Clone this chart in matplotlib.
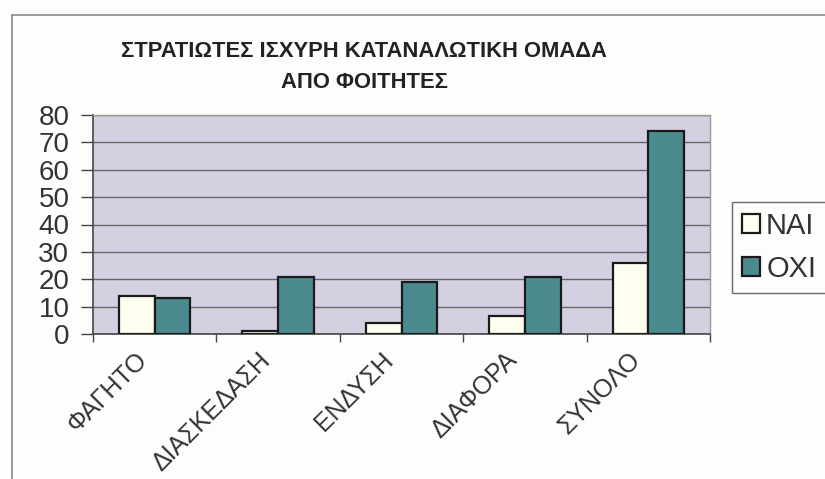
import matplotlib
matplotlib.use("Agg")
import matplotlib.pyplot as plt
import matplotlib.transforms as mtransforms
import numpy as np
from matplotlib.lines import Line2D

categories = ["ΦΑΓΗΤΟ", "ΔΙΑΣΚΕΔΑΣΗ", "ΕΝΔΥΣΗ", "ΔΙΑΦΟΡΑ", "ΣΥΝΟΛΟ"]
nai = [14, 1, 4, 6.5, 26]
oxi = [13, 21, 19, 21, 74]
series_names = ["NAI", "OXI"]
yticks = [0, 10, 20, 30, 40, 50, 60, 70, 80]
title = "ΣΤΡΑΤΙΩΤΕΣ ΙΣΧΥΡΗ ΚΑΤΑΝΑΛΩΤΙΚΗ ΟΜΑΔΑ\nΑΠΟ ΦΟΙΤΗΤΕΣ"

plt.rcParams['font.family'] = ['Liberation Sans', 'DejaVu Sans']

W, H = 825, 479
fig = plt.figure(figsize=(W / 100, H / 100), dpi=100, facecolor="#fdfdfb")

# outer chart border (left and top visible)
fig.add_artist(Line2D([12 / W, 12 / W], [0, 1 - 15 / H], transform=fig.transFigure,
                      color="#8a8a8a", lw=1.2))
fig.add_artist(Line2D([12 / W, 1], [1 - 15 / H, 1 - 15 / H], transform=fig.transFigure,
                      color="#8a8a8a", lw=1.2))

ax = fig.add_axes([93 / W, 1 - 334 / H, (710 - 93) / W, (334 - 115) / H])
ax.set_facecolor("#d5d0e1")

x = np.arange(len(categories))
bw = 0.29
ax.bar(x - bw / 2, nai, width=bw, color="#fffff0", edgecolor="#1a1a1a", linewidth=1.6,
       label=series_names[0], zorder=3)
ax.bar(x + bw / 2, oxi, width=bw, color="#4b8a8e", edgecolor="#1a1a1a", linewidth=1.6,
       label=series_names[1], zorder=3)

ax.set_xlim(-0.5, len(categories) - 0.5)
ax.set_ylim(0, 80)
ax.set_yticks(yticks)
ax.yaxis.grid(True, color="#666666", linewidth=1.0, zorder=1)
ax.set_axisbelow(True)

ax.set_xticks(np.arange(-0.5, len(categories), 1.0))
ax.set_xticklabels([])
ax.set_xticks(x, minor=True)
ax.set_xticklabels(categories, minor=True, rotation=45, ha="right", va="top",
                   rotation_mode="anchor", fontsize=18, color="#333333")
ax.tick_params(axis="x", which="minor", length=0, pad=10)
offset = mtransforms.ScaledTranslation(-20 / 100, 0, fig.dpi_scale_trans)
for lab in ax.get_xticklabels(minor=True):
    lab.set_transform(lab.get_transform() + offset)
ax.tick_params(axis="x", which="major", length=6, width=1.0, color="#444444", direction="out")
ax.tick_params(axis="y", length=9, width=1.0, color="#444444", direction="out",
               labelsize=20, labelcolor="#333333", pad=8)

for side in ["top", "right"]:
    ax.spines[side].set_color("#999999")
    ax.spines[side].set_linewidth(1.0)
for side in ["left", "bottom"]:
    ax.spines[side].set_color("#444444")
    ax.spines[side].set_linewidth(1.2)

fig.text(364 / W, 1 - 67 / H, title, ha="center", va="center", fontsize=15.8,
         fontweight="bold", color="#222222", linespacing=1.65)

leg = fig.legend(loc="upper left", bbox_to_anchor=(732 / W, 1 - 202 / H),
                 fontsize=21, frameon=True, fancybox=False, edgecolor="#444444",
                 handlelength=0.62, handleheight=0.62, handletextpad=0.2,
                 borderpad=0.35, labelspacing=0.5, borderaxespad=0)
leg.get_frame().set_linewidth(1.0)
leg.get_frame().set_facecolor("#fdfdfb")
for t in leg.get_texts():
    t.set_color("#333333")

fig.savefig("out.png", dpi=100, facecolor=fig.get_facecolor())
